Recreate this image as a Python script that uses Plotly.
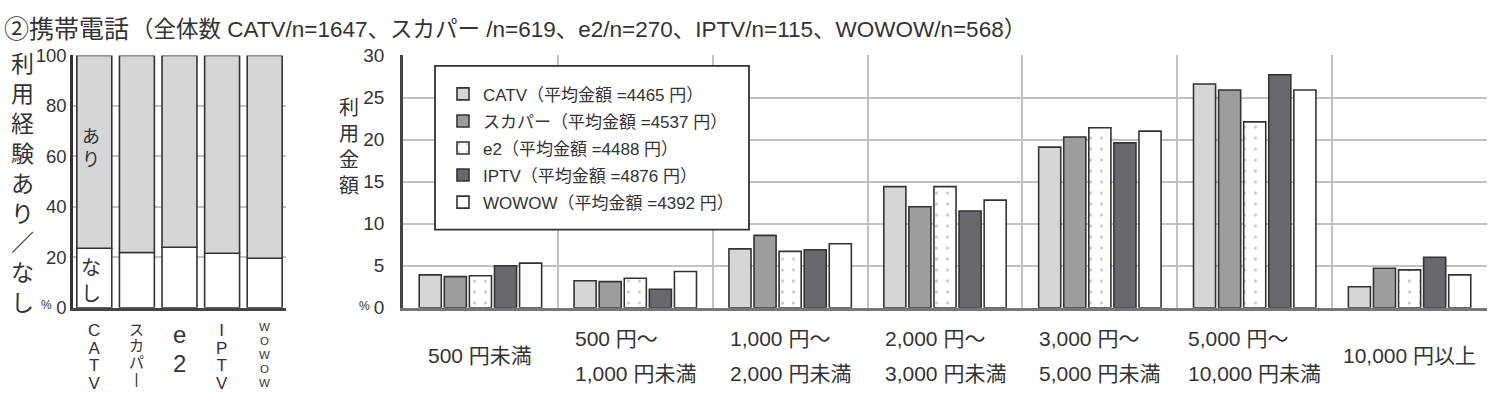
import plotly.graph_objects as go

# ---------------- data ----------------
services = ["CATV", "スカパー", "e2", "IPTV", "WOWOW"]
service_label_chars = [list("CATV"), ["ス", "カ", "パ", "|"], ["e", "2"], list("IPTV"), list("WOWOW")]
nashi = [23.6, 21.9, 24.0, 21.6, 19.6]   # 利用経験なし (%)
ari = [76.4, 78.1, 76.0, 78.4, 80.4]     # 利用経験あり (%)

price_cats = ["500円未満", "500円～1,000円未満", "1,000円～2,000円未満", "2,000円～3,000円未満",
              "3,000円～5,000円未満", "5,000円～10,000円未満", "10,000円以上"]
price_line1 = ["500 円未満", "500 円～", "1,000 円～", "2,000 円～", "3,000 円～", "5,000 円～", "10,000 円以上"]
price_line2 = ["", "1,000 円未満", "2,000 円未満", "3,000 円未満", "5,000 円未満", "10,000 円未満", ""]

catv = [3.9, 3.2, 7.0, 14.4, 19.1, 26.6, 2.5]
skyp = [3.7, 3.1, 8.6, 12.0, 20.3, 25.9, 4.7]
e2 = [3.8, 3.5, 6.7, 14.4, 21.4, 22.1, 4.5]
iptv = [5.0, 2.2, 6.9, 11.5, 19.6, 27.7, 6.0]
wowow = [5.3, 4.3, 7.6, 12.8, 21.0, 25.9, 3.9]

legend_names = ["CATV（平均金額 =4465 円）", "スカパー（平均金額 =4537 円）", "e2（平均金額 =4488 円）",
                "IPTV（平均金額 =4876 円）", "WOWOW（平均金額 =4392 円）"]

FONT = "Liberation Sans, Noto Sans CJK JP, sans-serif"
TXT = "#333333"
W, H = 1500, 411

def px(x):
    return x / W

def py(y):
    return (H - y) / H

fig = go.Figure()

# ---------------- left chart: stacked あり/なし ----------------
line = dict(color="#333333", width=1.6)
fig.add_trace(go.Bar(x=services, y=nashi, marker=dict(color="white", line=line), width=0.82,
                     offsetgroup="L", xaxis="x", yaxis="y", showlegend=False, cliponaxis=False))
fig.add_trace(go.Bar(x=services, y=ari, base=nashi, marker=dict(color="#d5d6d8", line=line), width=0.82,
                     offsetgroup="L", xaxis="x", yaxis="y", showlegend=False, cliponaxis=False))

# ---------------- right chart: grouped bars ----------------
series = [catv, skyp, e2, iptv, wowow]
fills = ["#d5d6d8", "#9c9d9f", "white", "#68696c", "white"]
for i, (vals, col) in enumerate(zip(series, fills)):
    mk = dict(color=col, line=line)
    if i == 2:
        mk["pattern"] = dict(shape=".", fgcolor="#8a8a8a", bgcolor="white", size=11, solidity=0.06)
    fig.add_trace(go.Bar(x=price_cats, y=vals, name=f"<span style='font-size:17px'>{legend_names[i]}</span>",
                         marker=mk, xaxis="x2", yaxis="y2", cliponaxis=False))

dom_y = [py(313.5), py(47)]
fig.update_layout(
    width=W, height=H,
    margin=dict(l=0, r=0, t=0, b=0),
    paper_bgcolor="white", plot_bgcolor="white",
    barmode="group", bargap=0.19, bargroupgap=0.12,
    font=dict(family=FONT, color=TXT),
    xaxis=dict(domain=[px(73), px(286)], type="category", range=[-0.5, 4.5], showgrid=False,
               showline=True, linecolor="#444444", linewidth=2.5, ticks="", showticklabels=False,
               zeroline=False, fixedrange=True),
    yaxis=dict(domain=dom_y, range=[0, 100], dtick=20, showgrid=True, gridcolor="#c2c2c2", gridwidth=1.5,
               showline=True, linecolor="#333333", linewidth=2.5, ticks="", zeroline=False,
               tickfont=dict(size=18.5, color=TXT, family=FONT), ticklabelstandoff=0),
    xaxis2=dict(domain=[px(403), px(1487)], type="category", range=[-0.5, 6.5], tickson="boundaries",
                showgrid=True, gridcolor="#c2c2c2", gridwidth=1.5, showline=True, linecolor="#777777",
                linewidth=2.5, ticks="", showticklabels=False, zeroline=False, anchor="y2"),
    yaxis2=dict(domain=dom_y, range=[0, 30], dtick=5, showgrid=True, gridcolor="#c2c2c2", gridwidth=1.5,
                showline=True, linecolor="#444444", linewidth=2.5, ticks="", zeroline=False, anchor="x2",
                tickfont=dict(size=19, color=TXT, family=FONT), ticklabelstandoff=12),
    legend=dict(x=px(443), y=py(68), xanchor="left", yanchor="top", bgcolor="rgba(0,0,0,0)",
                borderwidth=0, font=dict(size=18.5, color=TXT, family=FONT), traceorder="normal"),
    shapes=[dict(type="rect", xref="paper", yref="paper", x0=px(435), x1=px(749), y0=py(231), y1=py(58),
                 fillcolor="white", line=dict(color="#333333", width=1.8), layer="above")],
)

ann = []
# title
ann.append(dict(x=px(2), y=py(19), xref="paper", yref="paper", xanchor="left", yanchor="middle",
                text="②携帯電話", showarrow=False, font=dict(size=25, color=TXT, family=FONT)))
ann.append(dict(x=px(129), y=py(20), xref="paper", yref="paper", xanchor="left", yanchor="middle",
                text="（全体数 CATV/n=1647、スカパー /n=619、e2/n=270、IPTV/n=115、WOWOW/n=568）",
                showarrow=False, font=dict(size=22.5, color=TXT, family=FONT)))
# left y title
ann.append(dict(x=px(22), y=py(182), xref="paper", yref="paper", xanchor="center", yanchor="middle",
                text="<br>".join(list("利用経験あり／なし")), showarrow=False,
                font=dict(size=23, color=TXT, family=FONT)))
ann.append(dict(x=px(46), y=py(311), xref="paper", yref="paper", xanchor="center", yanchor="middle",
                text="%", showarrow=False, font=dict(size=12, color=TXT, family=FONT)))
# あり / なし in CATV bar
ann.append(dict(x="CATV", y=63, xref="x", yref="y", xanchor="center", yanchor="middle", xshift=-3,
                text="あ<br>り", showarrow=False, font=dict(size=18, color=TXT, family=FONT)))
ann.append(dict(x="CATV", y=10.5, xref="x", yref="y", xanchor="center", yanchor="middle", xshift=-3,
                text="な<br>し", showarrow=False, font=dict(size=20, color=TXT, family=FONT)))
# left x labels (vertical, one character per line)
label_fmt = [(13.5, 17), (12.5, 15), (22, 24), (13.5, 17), (10.8, 11.5)]
for s, chars, (base, inner) in zip(services, service_label_chars, label_fmt):
    txt = "<br>".join(f"<span style='font-size:{inner}px'>{c}</span>" for c in chars)
    ann.append(dict(x=s, y=py(325), xref="x", yref="paper", xanchor="center", yanchor="top",
                    text=txt, showarrow=False, font=dict(size=base, color=TXT, family=FONT)))
# right y title
ann.append(dict(x=px(349), y=py(144), xref="paper", yref="paper", xanchor="center", yanchor="middle",
                text="<br>".join(list("利用金額")), showarrow=False,
                font=dict(size=20, color=TXT, family=FONT)))
ann.append(dict(x=px(364), y=py(312), xref="paper", yref="paper", xanchor="center", yanchor="middle",
                text="%", showarrow=False, font=dict(size=12, color=TXT, family=FONT)))
# right x labels
for c, l1, l2 in zip(price_cats, price_line1, price_line2):
    if l2:
        txt = f"<span style='font-size:21px'>{l1}</span><br><span style='font-size:21px'>{l2}</span>"
    else:
        txt = f"<span style='font-size:21px'>{l1}</span>"
    ann.append(dict(x=c, y=py(364), xref="x2", yref="paper", xanchor="center", yanchor="middle", align="left",
                    text=txt, showarrow=False, font=dict(size=27, color=TXT, family=FONT)))

fig.update_layout(annotations=ann)
fig.write_html("out.html")
